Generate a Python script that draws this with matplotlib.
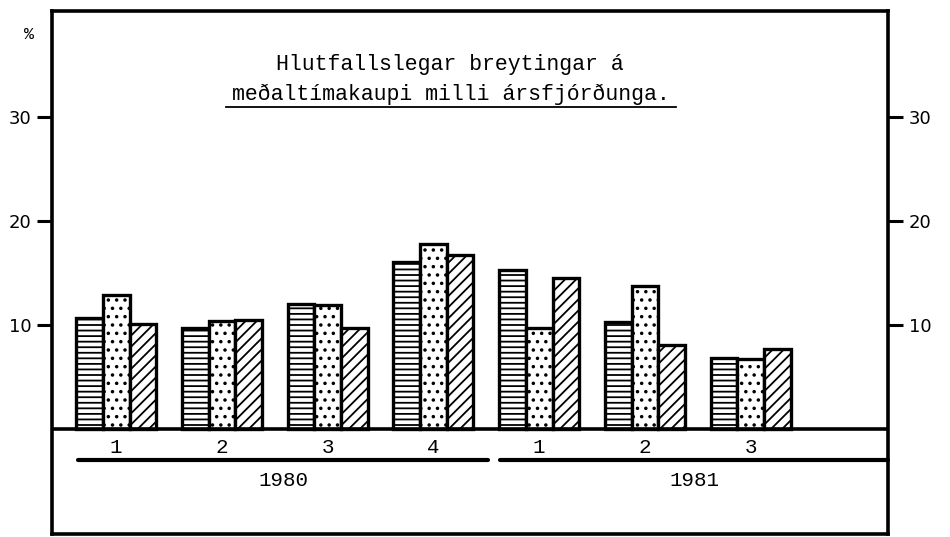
import matplotlib
matplotlib.use("Agg")
import matplotlib.pyplot as plt
from matplotlib.lines import Line2D
import numpy as np

# ---- data ----
quarter_labels = ["1", "2", "3", "4", "1", "2", "3"]
years = ["1980", "1981"]
series_a = [10.7, 9.7, 12.0, 16.1, 15.3, 10.3, 6.8]   # horizontal lines
series_b = [12.9, 10.4, 11.9, 17.8, 9.7, 13.7, 6.7]   # dots
series_c = [10.1, 10.5, 9.7, 16.7, 14.5, 8.1, 7.7]    # diagonal
yticks = [10, 20, 30]
title_1 = "Hlutfallslegar breytingar á"
title_2 = "meðaltímakaupi milli ársfjórðunga."

W, H = 950, 537
plt.rcParams["hatch.color"] = "black"
plt.rcParams["hatch.linewidth"] = 1.3
MONO = ["Liberation Mono", "DejaVu Sans Mono"]

fig = plt.figure(figsize=(W / 100, H / 100), dpi=100)
fig.patch.set_facecolor("white")

def fx(px):
    return px / W

def fy(py):
    return 1 - py / H

ax = fig.add_axes([fx(52), fy(534), fx(888) - fx(52), fy(11) - fy(534)])
ax.set_xlim(-0.607, 7.298)
ax.set_ylim(-10.1, 40.19)

x = np.arange(len(quarter_labels))
bw = 0.252
common = dict(width=bw, color="white", edgecolor="black", linewidth=2.4, zorder=3)
ax.bar(x - bw, series_a, hatch="---", **common)
ax.bar(x, series_b, hatch="..", **common)
ax.bar(x + bw, series_c, hatch="///", **common)

# baseline
ax.axhline(0, color="black", lw=2.6, zorder=4)

# frame
for s in ax.spines.values():
    s.set_linewidth(2.6)
    s.set_color("black")

# ticks left and right
ax.set_xticks([])
ax.set_yticks(yticks)
ax.set_yticklabels([str(t) for t in yticks])
ax.tick_params(axis="y", which="both", left=True, right=True, labelleft=True,
               labelright=True, direction="out", length=11, width=2.2,
               pad=4, labelsize=13, colors="black")

# quarter labels and year lines in the lower band
for xi, lab in zip(x, quarter_labels):
    ax.text(xi, -2.3, lab, ha="center", va="baseline", fontsize=15,
            family=MONO, color="black")

year_spans = [(-0.361, 3.515), (3.63, 7.298)]
for (x0, x1), yr in zip(year_spans, years):
    ax.plot([x0, x1], [-2.95, -2.95], color="black", lw=3,
            solid_capstyle="round", clip_on=False, zorder=4)
    ax.text((x0 + x1) / 2, -5.5, yr, ha="center", va="baseline",
            fontsize=15, family=MONO, color="black")

# % label
fig.text(fx(29), fy(39), "%", ha="center", va="baseline", fontsize=12,
         family=MONO, color="black")

# title
fig.text(fx(450), fy(70), title_1, ha="center", va="baseline",
         fontsize=15.5, family=MONO, color="black")
fig.text(fx(451), fy(100), title_2, ha="center", va="baseline",
         fontsize=15.5, family=MONO, color="black")
fig.add_artist(Line2D([fx(226), fx(676)], [fy(107), fy(107)],
                      transform=fig.transFigure, color="black", lw=1.3))

fig.savefig("out.png", dpi=100, facecolor="white")
